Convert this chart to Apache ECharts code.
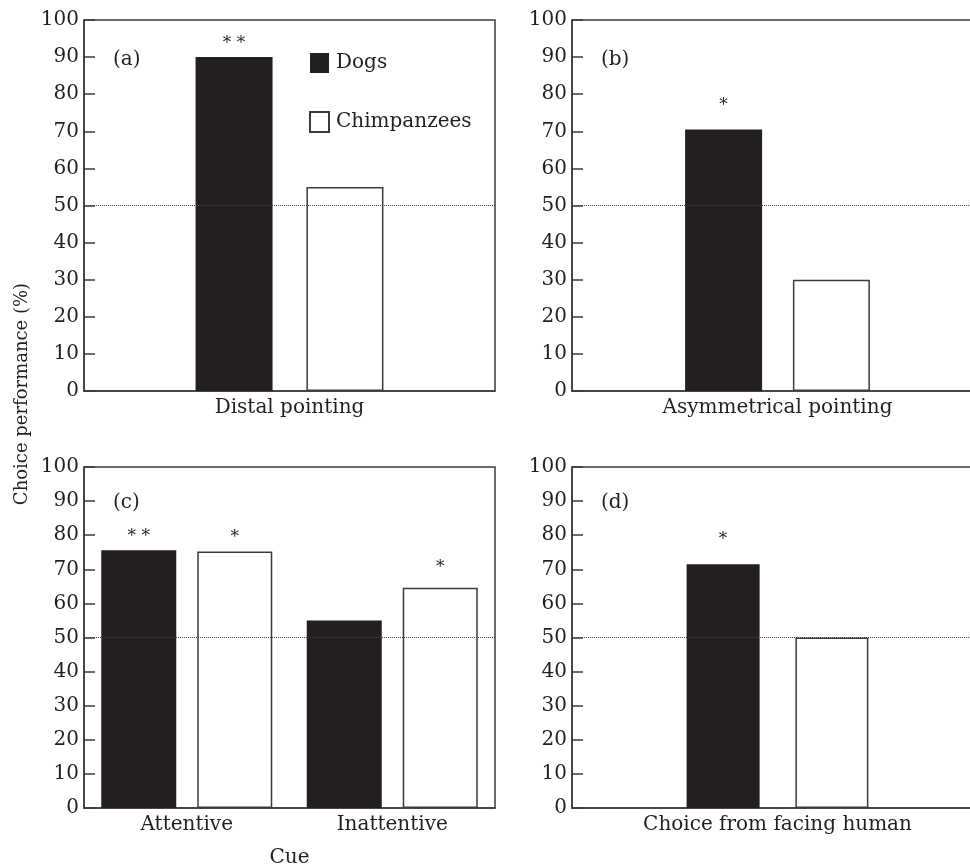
<!DOCTYPE html>
<html>
<head>
<meta charset="utf-8">
<script src="https://cdn.jsdelivr.net/npm/echarts@6/dist/echarts.min.js"></script>
<style>
html,body{margin:0;padding:0;background:#fff;}
#chart{width:970px;height:867px;}
</style>
</head>
<body>
<div id="chart"></div>
<script>
// ---- data ----
const seriesNames = ['Dogs', 'Chimpanzees'];
const categoriesA = ['Distal pointing'];
const dogsA = [90];
const chimpsA = [55];
const sigDogsA = ['* *'];
const sigChimpsA = [''];

const categoriesB = ['Asymmetrical pointing'];
const dogsB = [70.5];
const chimpsB = [30];
const sigDogsB = ['*'];
const sigChimpsB = [''];

const categoriesC = ['Attentive', 'Inattentive'];
const dogsC = [75.6, 55];
const chimpsC = [75.2, 64.6];
const sigDogsC = ['* *', ''];
const sigChimpsC = ['*', '*'];

const categoriesD = ['Choice from facing human'];
const dogsD = [71.5];
const chimpsD = [50];
const sigDogsD = ['*'];
const sigChimpsD = [''];

const panelLabels = ['(a)', '(b)', '(c)', '(d)'];
const chanceLevel = 50;
const yMin = 0, yMax = 100, yInterval = 10;
const yTitle = 'Choice performance (%)';
const xTitle = 'Cue';

// ---- layout / style ----
const FONT = 'DejaVu Serif';
const FS = 20;
const INK = '#231f20';
const LINE = '#3b3b3b';

const panels = [
  {cats: categoriesA, dogs: dogsA, chimps: chimpsA, sd: sigDogsA, sc: sigChimpsA,
   grid: {left: 84, top: 20, width: 411, height: 371}, barWidth: 77, barGap: '44%',
   dDist: [5], cDist: [5], label: {x: 113, y: 60}},
  {cats: categoriesB, dogs: dogsB, chimps: chimpsB, sd: sigDogsB, sc: sigChimpsB,
   grid: {left: 572, top: 20, width: 411, height: 371}, barWidth: 77, barGap: '40%',
   dDist: [15], cDist: [5], label: {x: 601, y: 60}},
  {cats: categoriesC, dogs: dogsC, chimps: chimpsC, sd: sigDogsC, sc: sigChimpsC,
   grid: {left: 84, top: 467, width: 411, height: 341}, barWidth: 75, barGap: '28%',
   dDist: [5, 5], cDist: [5, 12], label: {x: 113, y: 503}, xName: xTitle},
  {cats: categoriesD, dogs: dogsD, chimps: chimpsD, sd: sigDogsD, sc: sigChimpsD,
   grid: {left: 572, top: 467, width: 411, height: 341}, barWidth: 73, barGap: '49%',
   dDist: [16], cDist: [5], label: {x: 601, y: 503}}
];

const grids = [], xAxes = [], yAxes = [], series = [], graphics = [];

panels.forEach((p, i) => {
  grids.push(Object.assign({show: true, borderColor: LINE, borderWidth: 1.5, backgroundColor: 'transparent',
                            containLabel: false, outerBoundsMode: 'none'}, p.grid));
  xAxes.push({
    type: 'category', gridIndex: i, data: p.cats,
    axisLine: {show: true, lineStyle: {color: LINE, width: 1.5}},
    axisTick: {show: false},
    axisLabel: {color: INK, fontFamily: FONT, fontSize: FS, margin: 7},
    name: p.xName || '', nameLocation: 'middle', nameGap: 40,
    nameTextStyle: {color: INK, fontFamily: FONT, fontSize: FS}
  });
  yAxes.push({
    type: 'value', gridIndex: i, min: yMin, max: yMax, interval: yInterval,
    axisLine: {show: true, lineStyle: {color: LINE, width: 1.5}},
    axisTick: {show: true, inside: true, length: 11, lineStyle: {color: LINE, width: 1.5}},
    axisLabel: {color: INK, fontFamily: FONT, fontSize: FS, margin: 5},
    splitLine: {show: false}
  });
  const starLabel = (sig, dist) => (v, j) => ({
    value: v,
    label: {show: !!sig[j], formatter: sig[j], position: 'top', distance: dist[j],
            fontFamily: FONT, fontSize: 17, color: INK}
  });
  series.push({
    name: seriesNames[0], type: 'bar', xAxisIndex: i, yAxisIndex: i, z: 3,
    barWidth: p.barWidth, barGap: p.barGap,
    itemStyle: {color: INK, borderColor: INK, borderWidth: 0},
    data: p.dogs.map(starLabel(p.sd, p.dDist))
  });
  series.push({
    name: seriesNames[1], type: 'bar', xAxisIndex: i, yAxisIndex: i, z: 3,
    barWidth: p.barWidth, barGap: p.barGap,
    itemStyle: {color: '#ffffff', borderColor: LINE, borderWidth: 1.5},
    data: p.chimps.map(starLabel(p.sc, p.cDist))
  });
  series.push({
    type: 'line', xAxisIndex: i, yAxisIndex: i, z: 1, data: [], silent: true,
    markLine: {
      silent: true, symbol: 'none', label: {show: false},
      lineStyle: {type: 'dotted', color: '#444', width: 1},
      data: [{yAxis: chanceLevel}]
    }
  });
  graphics.push({
    type: 'text', x: p.label.x, y: p.label.y,
    style: {text: panelLabels[i], font: FS + 'px "' + FONT + '"', fill: INK, textAlign: 'left', textVerticalAlign: 'middle'}
  });
});

graphics.push({
  type: 'text', x: 22, y: 394, rotation: Math.PI / 2,
  style: {text: yTitle, font: '18px "' + FONT + '"', fill: INK, textAlign: 'center', textVerticalAlign: 'middle'}
});

const chart = echarts.init(document.getElementById('chart'), null, {renderer: 'canvas'});
chart.setOption({
  animation: false,
  backgroundColor: '#ffffff',
  legend: {
    data: seriesNames, orient: 'vertical', left: 304, top: 48,
    itemWidth: 19, itemHeight: 20, itemGap: 38, icon: 'rect',
    textStyle: {color: INK, fontFamily: FONT, fontSize: FS, padding: [0, 0, 0, 2]},
    selectedMode: false
  },
  grid: grids,
  xAxis: xAxes,
  yAxis: yAxes,
  series: series,
  graphic: graphics
});
</script>
</body>
</html>
